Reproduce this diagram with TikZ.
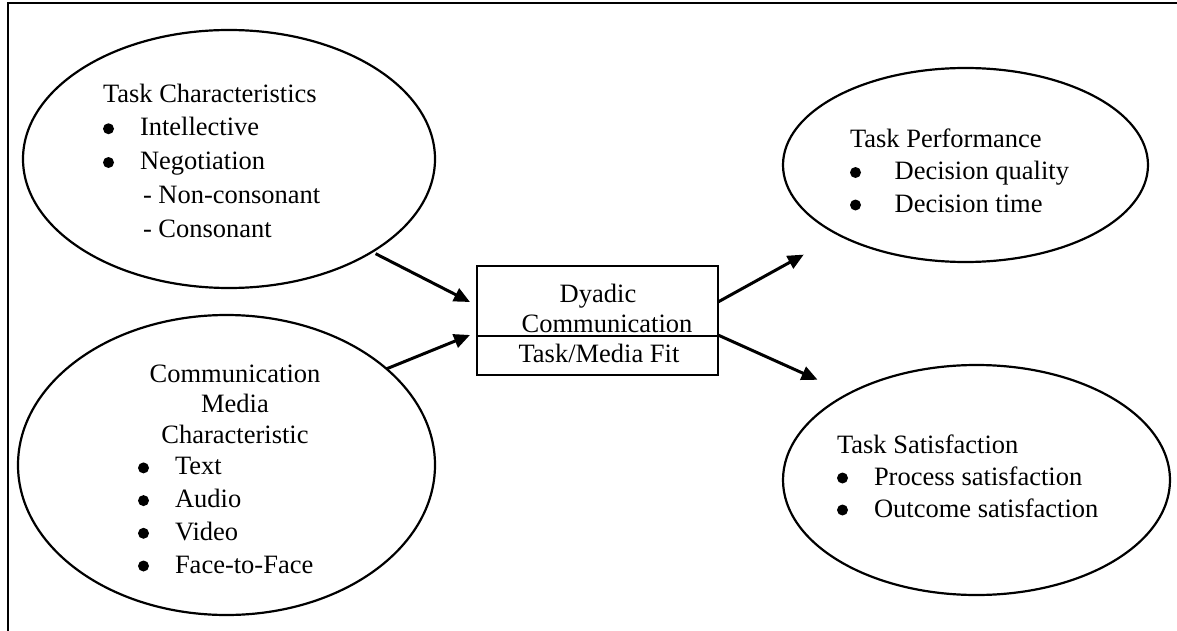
\documentclass[tikz,border=0pt]{standalone}
\usepackage{fontspec}
\setmainfont{Liberation Serif}
\usetikzlibrary{shapes.geometric,arrows.meta}
\newcommand\mybul[1][37pt]{\makebox[#1][l]{\tikz[baseline={(0pt,-7pt)}]\fill (5.5pt,0pt) circle[radius=5.5pt];}}
\begin{document}
\begin{tikzpicture}[x=1pt,y=-1pt,
  oval/.style={draw,ellipse,line width=2.2pt,inner sep=0pt,outer sep=0pt},
  txt/.style={inner sep=0pt,outer sep=0pt,align=left,anchor=base west},
  ctxt/.style={inner sep=0pt,outer sep=0pt,align=center,anchor=base},
  arr/.style={line width=3pt,-{Triangle[length=16pt,width=14pt]}},
  frame/.style={line width=2.2pt}
]
\path[use as bounding box] (0,0) rectangle (1177,631);
\draw[frame] (1177,3) -- (8,3) -- (8,631);

% ovals
\node[oval,minimum width=412pt,minimum height=258pt] (e1) at (229,159) {};
\node[oval,minimum width=417pt,minimum height=300pt] (e2) at (226.5,465) {};
\node[oval,minimum width=365pt,minimum height=194pt] (e3) at (965.5,165) {};
\node[oval,minimum width=387pt,minimum height=230pt] (e4) at (976.5,480) {};

% central box
\node[draw,line width=2.2pt,inner sep=0pt,outer sep=0pt,minimum width=241pt,minimum height=109pt] (box) at (597.5,320.5) {};
\draw[line width=2.2pt] ([yshift=-15.5pt]box.west) -- ([yshift=-15.5pt]box.east);

% texts (base anchor = baseline of last line)
\node[txt,font=\fontsize{26.5}{33.75}\selectfont] (t1) at (103,237) {Task Characteristics\\
\mybul Intellective\\
\mybul Negotiation\\
\hspace*{40pt}- Non-consonant\\
\hspace*{40pt}- Consonant};

\node[ctxt,font=\fontsize{26.5}{30.5}\selectfont] (t2a) at (235,443) {Communication\\Media\\Characteristic};
\node[txt,font=\fontsize{26.5}{32.7}\selectfont] (t2b) at (138,573) {\mybul Text\\
\mybul Audio\\
\mybul Video\\
\mybul Face-to-Face};

\node[txt,font=\fontsize{26.5}{32.5}\selectfont] (t3) at (850,212) {Task Performance\\
\mybul[38pt] Decision quality\\
\mybul[38pt] Decision time};

\node[txt,font=\fontsize{26.5}{32}\selectfont] (t4) at (837,517) {Task Satisfaction\\
\mybul Process satisfaction\\
\mybul Outcome satisfaction};

\node[ctxt,font=\fontsize{26.5}{30}\selectfont] (b1) at (598,302) {Dyadic};
\node[ctxt,font=\fontsize{26.5}{30}\selectfont] (b2) at (607,332) {Communication};
\node[ctxt,font=\fontsize{26.5}{30}\selectfont] (b3) at (599,362) {Task/Media Fit};

% arrows
\draw[arr,shorten <=4pt] (e1.-33) -- ([xshift=-7pt,yshift=-36pt]box.north west);
\draw[arr] (e2.31) -- ([xshift=-7pt,yshift=-69pt]box.north west);
\draw[arr,shorten >=40.5pt] ([yshift=-36pt]box.north east) -- (e3.209.5);
\draw[arr,shorten >=34pt] ([yshift=-69pt]box.north east) -- (e4.146.2);
\end{tikzpicture}
\end{document}
